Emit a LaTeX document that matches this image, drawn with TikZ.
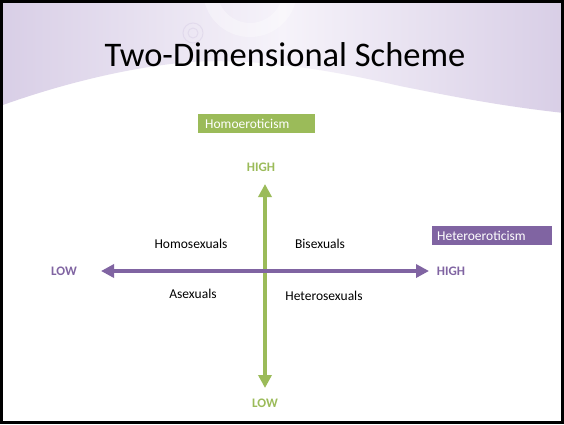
\documentclass[tikz,border=0pt]{standalone}
\usepackage{fontspec}
\setmainfont{Carlito}
\usetikzlibrary{arrows.meta}
\definecolor{lav}{RGB}{216,206,230}
\definecolor{lavlight}{RGB}{246,243,250}
\definecolor{ogreen}{RGB}{155,187,89}
\definecolor{opurple}{RGB}{128,100,162}
\tikzset{
  lbl/.style={font=\fontsize{13.5}{16}\selectfont, text=black},
  hl/.style={font=\fontsize{13}{15}\selectfont\bfseries},
  tagbox/.style={anchor=west, inner sep=0pt, text=white, font=\fontsize{13.5}{16}\selectfont},
  axis/.style={line width=4pt, -{Triangle[length=13pt,width=13pt]}},
}
\begin{document}
\begin{tikzpicture}[x=1pt,y=-1pt]
\useasboundingbox (0,0) rectangle (564,424);
\fill[white] (0,0) rectangle (564,424);
% background swoosh
\shade[left color=lav, right color=lav, middle color=lavlight]
  (0,0) -- (564,0) -- (564,113) .. controls (500,106) and (450,96) .. (400,86)
  .. controls (330,70) and (260,58) .. (190,62) .. controls (120,68) and (50,88) .. (0,106) -- cycle;
% faint rings
\draw[white, line width=14pt, opacity=0.35] (250,-10) circle (40);
\draw[lav, line width=1pt, opacity=0.5] (193,33) circle (10);
\draw[lav, line width=1pt, opacity=0.5] (193,33) circle (5);
% title
\node (title) at (285,55) {\fontsize{34.5}{40}\selectfont Two-Dimensional Scheme};
% tag boxes
\fill[ogreen] (198,114) rectangle (315,133);
\node[tagbox] (homo) at (205,124) {Homoeroticism};
\fill[opurple] (432,226) rectangle (552,245);
\node[tagbox] (hetero) at (437,236) {Heteroeroticism};
% axes
\coordinate (vtop) at (265,184);
\coordinate (vbot) at (265,388);
\coordinate (hl) at (101,271);
\coordinate (hr) at (429,271);
\coordinate (c) at (265,271);
\draw[axis, ogreen] (c) -- (vtop);
\draw[axis, ogreen] (c) -- (vbot);
\draw[axis, opurple] (c) -- (hl);
\draw[axis, opurple] (c) -- (hr);
% axis labels
\node[hl, text=ogreen] (vhigh) at (261,167) {HIGH};
\node[hl, text=ogreen] (vlow) at (265,403) {LOW};
\node[hl, text=opurple] (hlow) at (64,271) {LOW};
\node[hl, text=opurple] (hhigh) at (451,271) {HIGH};
% quadrant labels
\node[lbl] (q1) at (191,244) {Homosexuals};
\node[lbl] (q2) at (320,244) {Bisexuals};
\node[lbl] (q3) at (193,294) {Asexuals};
\node[lbl] (q4) at (324,296) {Heterosexuals};
% frame
\draw[black, line width=2.5pt] (1.5,1.5) rectangle (562.5,422.5);
\end{tikzpicture}
\end{document}
